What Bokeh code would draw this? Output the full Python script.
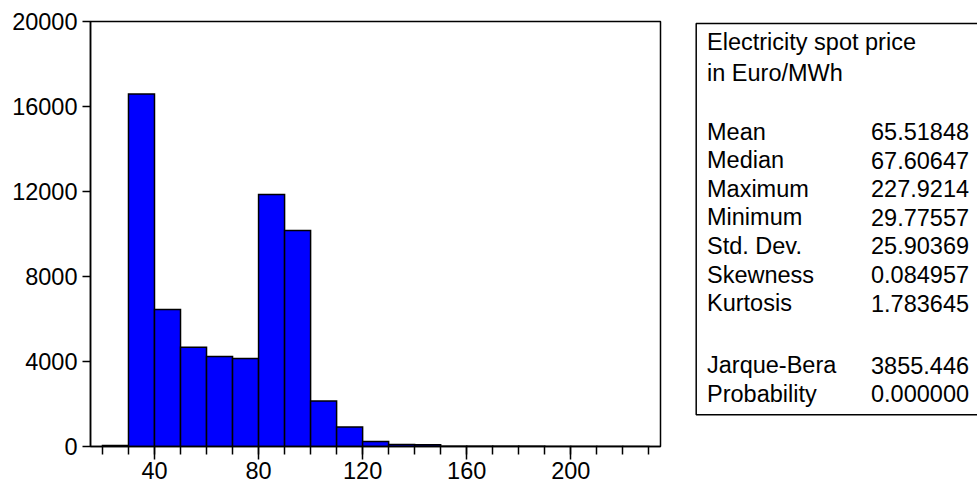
from bokeh.plotting import figure
from bokeh.layouts import row
from bokeh.models import Range1d, FixedTicker, ColumnDataSource
from bokeh.core.properties import value
from bokeh.embed import file_html
from bokeh.resources import INLINE

# ---- data ----
bin_left = [20, 30, 40, 50, 60, 70, 80, 90, 100, 110, 120, 130, 140, 150,
            160, 170, 180, 190, 200, 210, 220]
bin_width = 10
counts = [50, 16590, 6450, 4670, 4230, 4140, 11860, 10170, 2140, 915, 236,
          100, 80, 15, 10, 8, 6, 5, 4, 3, 2]
x_major_ticks = [40, 80, 120, 160, 200]
x_minor_ticks = list(range(20, 240, 10))
y_ticks = [0, 4000, 8000, 12000, 16000, 20000]

title_lines = ["Electricity spot price", "in Euro/MWh"]
stat_names = ["Mean", "Median", "Maximum", "Minimum", "Std. Dev.", "Skewness",
              "Kurtosis", "Jarque-Bera", "Probability"]
stat_values = ["65.51848", "67.60647", "227.9214", "29.77557", "25.90369",
               "0.084957", "1.783645", "3855.446", "0.000000"]

FONT = "Liberation Sans"
FS = "23.5px"

W1, W2, H = 678, 299, 488
TOP, BOTTOM = 21, 42

# ---- histogram ----
p1 = figure(width=W1, height=H, output_backend="svg", toolbar_location=None,
            x_range=Range1d(15.4, 234.5), y_range=Range1d(0, 20000),
            min_border_left=90, min_border_right=18, min_border_top=TOP,
            min_border_bottom=0)
p1.background_fill_color = "white"
p1.border_fill_color = "white"
p1.outline_line_color = "black"
p1.outline_line_width = 1.5
p1.xgrid.visible = False
p1.ygrid.visible = False

src = ColumnDataSource(dict(
    left=bin_left,
    right=[b + bin_width for b in bin_left],
    top=counts,
))
p1.quad(left="left", right="right", top="top", bottom=0, source=src,
        fill_color="#0000FF", line_color="black", line_width=1.5,
        line_join="miter")

xa = p1.xaxis[0]
xa.ticker = FixedTicker(ticks=x_major_ticks, minor_ticks=x_minor_ticks)
xa.major_tick_in = 0
xa.major_tick_out = 13
xa.minor_tick_in = 0
xa.minor_tick_out = 8
xa.major_label_standoff = 2
ya = p1.yaxis[0]
ya.ticker = FixedTicker(ticks=y_ticks)
ya.major_tick_in = 0
ya.major_tick_out = 8
ya.major_label_standoff = 5
for ax in (xa, ya):
    ax.axis_line_color = "black"
    ax.axis_line_width = 1.5
    ax.major_tick_line_color = "black"
    ax.major_tick_line_width = 1.5
    ax.minor_tick_line_width = 1.5
    ax.major_label_text_font = FONT
    ax.major_label_text_font_size = FS
    ax.major_label_text_color = "black"
xa.minor_tick_line_color = "black"
ya.minor_tick_line_color = None

# ---- statistics box (coordinates = page pixels) ----
x0 = W1
p2 = figure(width=W2, height=H, output_backend="svg", toolbar_location=None,
            x_range=Range1d(x0, x0 + W2), y_range=Range1d(H - BOTTOM, TOP),
            x_axis_location=None, y_axis_location=None,
            min_border_left=0, min_border_right=0,
            min_border_top=TOP, min_border_bottom=BOTTOM)
p2.background_fill_color = "white"
p2.border_fill_color = "white"
p2.outline_line_color = None
p2.xgrid.visible = False
p2.ygrid.visible = False

p2.quad(left=[695.7], right=[x0 + W2 + 50], top=[23], bottom=[414.3],
        fill_color=None, line_color="black", line_width=1.5)

title_y = [41, 72]
stat_y = [131 + 28.6 * i for i in range(7)] + [364.5, 393]
name_x = 706.5
val_x = 870.5

p2.text(x=[name_x] * len(title_lines), y=title_y, text=title_lines,
        text_font=value(FONT), text_font_size=FS, text_color="black",
        text_baseline="alphabetic", text_align="left")
p2.text(x=[name_x] * len(stat_names), y=stat_y, text=stat_names,
        text_font=value(FONT), text_font_size=FS, text_color="black",
        text_baseline="alphabetic", text_align="left")
p2.text(x=[val_x] * len(stat_values), y=stat_y, text=stat_values,
        text_font=value(FONT), text_font_size=FS, text_color="black",
        text_baseline="alphabetic", text_align="left")

layout = row(p1, p2)
open("out.html", "w").write(file_html(layout, INLINE))
